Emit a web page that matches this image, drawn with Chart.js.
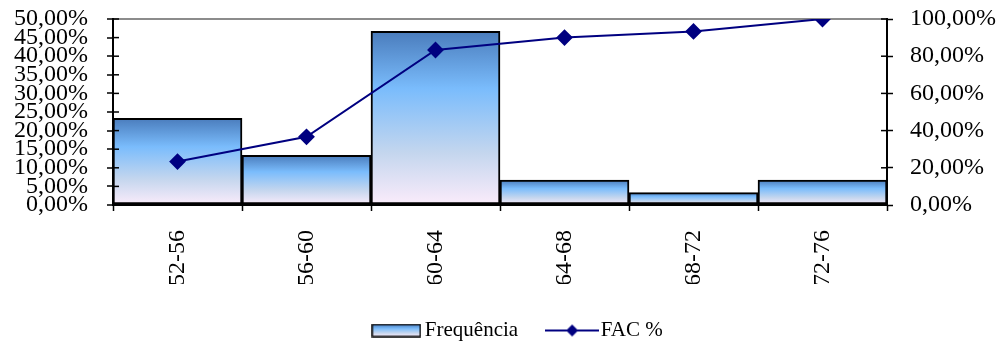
<!DOCTYPE html>
<html>
<head>
<meta charset="utf-8">
<script src="https://cdn.jsdelivr.net/npm/chart.js@4/dist/chart.umd.min.js"></script>
<style>
  body { margin: 0; background: #fff; }
</style>
</head>
<body>
<canvas id="paretoChart" width="1005" height="344"></canvas>
<script>
const categories = ["52-56", "56-60", "60-64", "64-68", "68-72", "72-76"];
const frequencia = [23.33, 13.33, 46.67, 6.67, 3.33, 6.67];
const facPercent = [23.33, 36.67, 83.33, 90.0, 93.33, 100.0];

const SERIF = "'Liberation Serif', 'Times New Roman', serif";
const NAVY = "#000080";

function pct(v) {
  return Number(v).toFixed(2).replace(".", ",") + "%";
}

function barGradient(ctx, top, bottom) {
  const g = ctx.createLinearGradient(0, top, 0, bottom);
  g.addColorStop(0, "#4a7cbc");
  g.addColorStop(0.33, "#7abcfc");
  g.addColorStop(0.7, "#c4d6ee");
  g.addColorStop(1, "#fbecfb");
  return g;
}

// legend swatches
const barSwatch = document.createElement("canvas");
barSwatch.width = 50; barSwatch.height = 14;
(function () {
  const c = barSwatch.getContext("2d");
  c.fillStyle = barGradient(c, 1, 13);
  c.fillRect(1, 1, 48, 12);
  c.strokeStyle = "#000"; c.lineWidth = 1.5;
  c.strokeRect(1, 1, 48, 12);
})();

const lineSwatch = document.createElement("canvas");
lineSwatch.width = 54; lineSwatch.height = 14;
(function () {
  const c = lineSwatch.getContext("2d");
  c.strokeStyle = NAVY; c.lineWidth = 2;
  c.beginPath(); c.moveTo(0, 7); c.lineTo(54, 7); c.stroke();
  c.fillStyle = NAVY;
  c.beginPath(); c.moveTo(27, 1); c.lineTo(33, 7); c.lineTo(27, 13); c.lineTo(21, 7); c.closePath(); c.fill();
})();

function noPad(s) {
  s.paddingTop = 0;
  s.paddingBottom = 0;
}

// tick marks also cross into the plot on both value axes
const innerTicks = {
  id: "innerTicks",
  afterDraw(chart) {
    const ctx = chart.ctx;
    ["y", "y1"].forEach((id) => {
      const s = chart.scales[id];
      const x = id === "y" ? s.right : s.left;
      const dir = id === "y" ? 1 : -1;
      ctx.save();
      ctx.strokeStyle = "#000";
      ctx.lineWidth = 1.5;
      s.ticks.forEach((t, i) => {
        const py = s.getPixelForTick(i);
        ctx.beginPath();
        ctx.moveTo(x, py);
        ctx.lineTo(x + dir * 6, py);
        ctx.stroke();
      });
      ctx.restore();
    });
  }
};

const data = {
  labels: categories,
  datasets: [
    {
      type: "line",
      label: "FAC %",
      data: facPercent,
      yAxisID: "y1",
      borderColor: NAVY,
      backgroundColor: NAVY,
      borderWidth: 2,
      pointStyle: "rectRot",
      pointRadius: 7,
      pointBackgroundColor: NAVY,
      pointBorderColor: NAVY,
      tension: 0,
      order: 0
    },
    {
      type: "bar",
      label: "Frequência",
      data: frequencia,
      yAxisID: "y",
      borderColor: "#000",
      borderWidth: 2,
      borderSkipped: false,
      barPercentage: 1,
      categoryPercentage: 1,
      order: 1,
      backgroundColor: (c) => {
        const chart = c.chart;
        if (c.type !== "data" || !chart.chartArea || !chart.scales.y) return "#7abcfc";
        const y = chart.scales.y;
        return barGradient(chart.ctx, y.getPixelForValue(c.raw), y.getPixelForValue(0));
      }
    }
  ]
};

const config = {
  data: data,
  plugins: [innerTicks],
  options: {
    responsive: false,
    animation: false,
    layout: { padding: { top: 19, left: 0, right: -36 } },
    scales: {
      x: {
        offset: true,
        grid: { offset: true, color: "rgba(0,0,0,0)", tickColor: "#000", tickLength: 6, tickWidth: 1.5 },
        border: { color: "#000", width: 2 },
        ticks: { minRotation: 90, maxRotation: 90, color: "#000", padding: 19, font: { family: SERIF, size: 24 } },
        afterFit: (s) => { s.height = 79; s.paddingLeft = 0; s.paddingRight = 0; }
      },
      y: {
        position: "left",
        min: 0,
        max: 50,
        grid: {
          color: (c) => (c.tick && c.tick.value === 50 ? "#8c8c8c" : "rgba(0,0,0,0)"),
          lineWidth: 2,
          tickColor: "#000",
          tickLength: 6,
          tickWidth: 1.5
        },
        border: { color: "#000", width: 2 },
        ticks: { stepSize: 5, autoSkip: false, color: "#000", padding: 19, callback: pct, font: { family: SERIF, size: 24 } },
        afterFit: (s) => { s.width = 113; noPad(s); }
      },
      y1: {
        position: "right",
        min: 0,
        max: 100,
        grid: { drawOnChartArea: false, tickColor: "#000", tickLength: 6, tickWidth: 1.5 },
        border: { color: "#000", width: 2 },
        ticks: { stepSize: 20, autoSkip: false, color: "#000", padding: 17, callback: pct, font: { family: SERIF, size: 24 } },
        afterFit: (s) => { s.width = 154; noPad(s); }
      }
    },
    plugins: {
      tooltip: { enabled: false },
      legend: {
        position: "bottom",
        maxHeight: 60,
        labels: {
          usePointStyle: true,
          pointStyleWidth: 36,
          color: "#000",
          padding: 36,
          font: { family: SERIF, size: 21 },
          generateLabels: () => [
            { text: "Frequência", pointStyle: barSwatch, fontColor: "#000", datasetIndex: 1, lineWidth: 0, strokeStyle: "rgba(0,0,0,0)" },
            { text: "FAC %", pointStyle: lineSwatch, fontColor: "#000", datasetIndex: 0, lineWidth: 0, strokeStyle: "rgba(0,0,0,0)" }
          ]
        }
      }
    }
  }
};

const ctx = document.getElementById("paretoChart");
let paretoChart = new Chart(ctx, config);
</script>
</body>
</html>
